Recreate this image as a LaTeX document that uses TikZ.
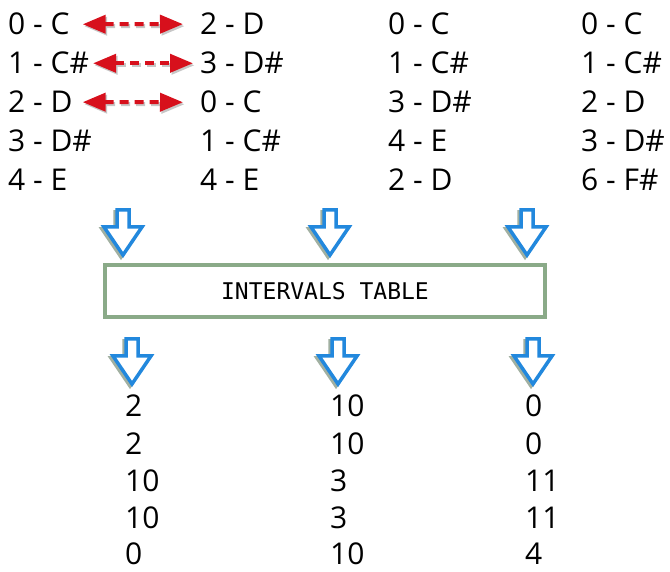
\documentclass[tikz,border=0pt]{standalone}
\usepackage{fontspec}
\setmainfont{Open Sans}
\newfontfamily\boxfont{DejaVu Sans Mono}
\usetikzlibrary{arrows.meta}
\definecolor{notered}{HTML}{D7101C}
\definecolor{arrblue}{HTML}{2288DD}
\definecolor{boxgreen}{HTML}{8AAA88}
\definecolor{shadowgreen}{HTML}{2F4F2F}
\tikzset{
  note/.style={anchor=base west, inner sep=0pt, font=\fontsize{30}{36}\selectfont},
  swapline/.style={notered, line width=4pt, dash pattern=on 9pt off 6pt,
    {Triangle[length=23pt,width=18pt]}-{Triangle[length=23pt,width=18pt]}},
  swapshadow/.style={swapline, black!22, transform canvas={shift={(1.5pt,-2pt)}}},
  tablebox/.style={draw=boxgreen, line width=3.5pt, minimum width=440pt, minimum height=52pt,
    inner sep=0pt, font=\boxfont\fontsize{23}{28}\selectfont},
  pics/downarrow/.style={code={
    \draw[shadowgreen, opacity=0.45, line width=3.5pt, shift={(-2,2)}]
      (-6,-45) -- (6,-45) -- (6,-28) -- (19,-28) -- (0,0) -- (-19,-28) -- (-6,-28) -- cycle;
    \draw[arrblue, line width=3.5pt, fill=white, line join=miter]
      (-6,-45) -- (6,-45) -- (6,-28) -- (19,-28) -- (0,0) -- (-19,-28) -- (-6,-28) -- cycle;
  }}
}
\begin{document}
\begin{tikzpicture}[x=1pt, y=-1pt]
\useasboundingbox (0,0) rectangle (670,572);
% column 1
\node[note] (a1) at (8,35)  {0 - C};
\node[note] (a2) at (8,74)  {1 - C\#};
\node[note] (a3) at (8,113) {2 - D};
\node[note] (a4) at (8,152) {3 - D\#};
\node[note] (a5) at (8,191) {4 - E};
% column 2
\node[note] (b1) at (200,35)  {2 - D};
\node[note] (b2) at (200,74)  {3 - D\#};
\node[note] (b3) at (200,113) {0 - C};
\node[note] (b4) at (200,152) {1 - C\#};
\node[note] (b5) at (200,191) {4 - E};
% column 3
\node[note] (c1) at (388,35)  {0 - C};
\node[note] (c2) at (388,74)  {1 - C\#};
\node[note] (c3) at (388,113) {3 - D\#};
\node[note] (c4) at (388,152) {4 - E};
\node[note] (c5) at (388,191) {2 - D};
% column 4
\node[note] (d1) at (581,35)  {0 - C};
\node[note] (d2) at (581,74)  {1 - C\#};
\node[note] (d3) at (581,113) {2 - D};
\node[note] (d4) at (581,152) {3 - D\#};
\node[note] (d5) at (581,191) {6 - F\#};
% swap arrows
\draw[swapshadow, shorten <=13pt, shorten >=17pt] (a1.east) -- (b1.west);
\draw[swapline,   shorten <=13pt, shorten >=17pt] (a1.east) -- (b1.west);
\draw[swapshadow, shorten <=4pt, shorten >=7pt] (a2.east) -- (b2.west);
\draw[swapline,   shorten <=4pt, shorten >=7pt] (a2.east) -- (b2.west);
\draw[swapshadow, shorten <=10pt, shorten >=17pt] (a3.east) -- (b3.west);
\draw[swapline,   shorten <=10pt, shorten >=17pt] (a3.east) -- (b3.west);
% down arrows
\pic at (123,255) {downarrow};
\pic at (330,255) {downarrow};
\pic at (527,255) {downarrow};
% table
\node[tablebox] (tbl) at (325,291) {INTERVALS TABLE};
\pic at (132,384) {downarrow};
\pic at (338,384) {downarrow};
\pic at (533,384) {downarrow};
% results
\node[note] (e1) at (125,417) {2};
\node[note] (e2) at (125,454) {2};
\node[note] (e3) at (125,491) {10};
\node[note] (e4) at (125,528) {10};
\node[note] (e5) at (125,564) {0};
\node[note] (f1) at (330,417) {10};
\node[note] (f2) at (330,454) {10};
\node[note] (f3) at (330,491) {3};
\node[note] (f4) at (330,528) {3};
\node[note] (f5) at (330,564) {10};
\node[note] (g1) at (525,417) {0};
\node[note] (g2) at (525,454) {0};
\node[note] (g3) at (525,491) {11};
\node[note] (g4) at (525,528) {11};
\node[note] (g5) at (525,564) {4};
\end{tikzpicture}
\end{document}
